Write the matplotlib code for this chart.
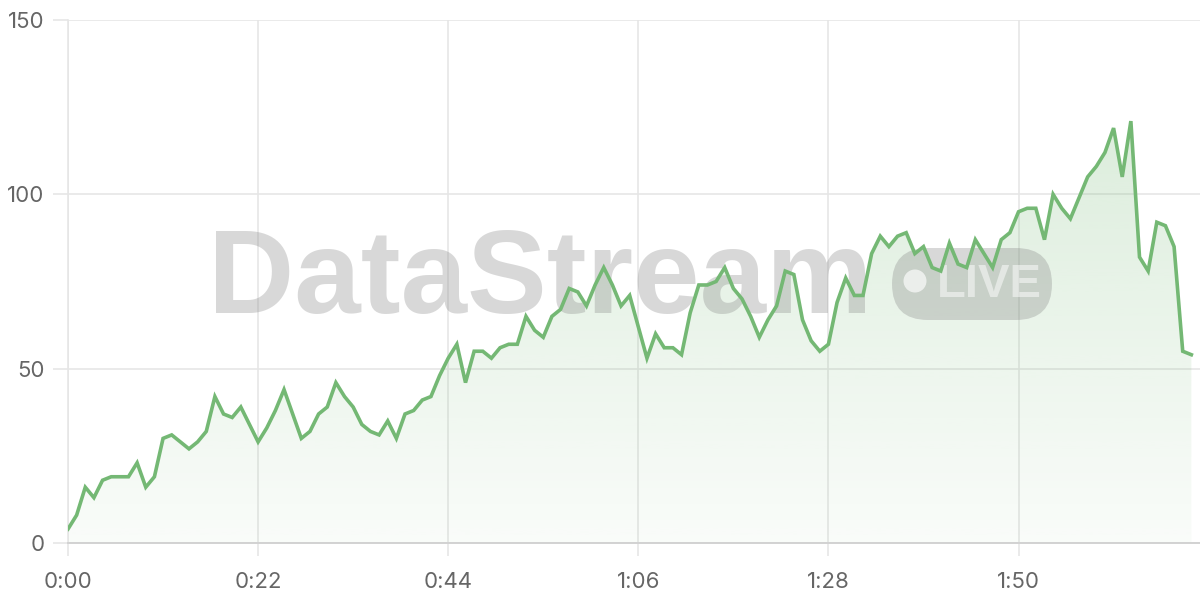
#! /usr/bin/env python3

import numpy as np
import matplotlib
matplotlib.use('Agg')
import matplotlib.pyplot as plt
from matplotlib.patches import FancyBboxPatch, Ellipse

# one reading per second, 0:00 .. 2:10
seconds = list(range(131))
values = [4, 8, 16, 13, 18, 19, 19, 19, 23, 16,
          19, 30, 31, 29, 27, 29, 32, 42, 37, 36,
          39, 34, 29, 33, 38, 44, 37, 30, 32, 37,
          39, 46, 42, 39, 34, 32, 31, 35, 30, 37,
          38, 41, 42, 48, 53, 57, 46, 55, 55, 53,
          56, 57, 57, 65, 61, 59, 65, 67, 73, 72,
          68, 74, 79, 74, 68, 71, 62, 53, 60, 56,
          56, 54, 66, 74, 74, 75, 79, 73, 70, 65,
          59, 64, 68, 78, 77, 64, 58, 55, 57, 69,
          76, 71, 71, 83, 88, 85, 88, 89, 83, 85,
          79, 78, 86, 80, 79, 87, 83, 79, 87, 89,
          95, 96, 96, 87, 100, 96, 93, 99, 105, 108,
          112, 119, 105, 121, 82, 78, 92, 91, 85, 55,
          54]

x_ticks = [0, 22, 44, 66, 88, 110]
x_labels = ['%d:%02d' % (t // 60, t % 60) for t in x_ticks]
y_ticks = [0, 50, 100, 150]

green = '#74b874'
grid_col = '#e6e6e6'
label_col = '#666666'

plt.rcParams['font.family'] = ['Inter', 'DejaVu Sans']

W, H = 1200, 600
fig = plt.figure(figsize=(12, 6), dpi=100)
ax = fig.add_axes([68 / W, 57 / H, (W - 68) / W, (543 - 20) / H])

ax.set_xlim(0, 131)
ax.set_ylim(0, 150)

# gradient fill under the line
poly = ax.fill_between(seconds, values, 0, color='none', zorder=1)
grad = np.zeros((256, 1, 4))
rgb = matplotlib.colors.to_rgb(green)
grad[:, 0, 0] = rgb[0]
grad[:, 0, 1] = rgb[1]
grad[:, 0, 2] = rgb[2]
grad[:, 0, 3] = np.linspace(0.04, 0.30, 256)
img = ax.imshow(grad, extent=[0, 131, 0, 150], origin='lower', aspect='auto', zorder=1)
img.set_clip_path(poly.get_paths()[0], transform=ax.transData)

ax.plot(seconds, values, color=green, lw=2.6, zorder=3, solid_joinstyle='miter')

# watermark
ax.text(208 / W, (H - 313) / H, 'DataStream', transform=fig.transFigure,
        family='Liberation Sans', fontsize=86, fontweight='bold', color='#808080', alpha=0.3,
        ha='left', va='baseline', zorder=2)
badge = FancyBboxPatch((892 / W, (H - 320) / H), 160 / W, 72 / H,
                       boxstyle='round,pad=0,rounding_size=0.03',
                       transform=fig.transFigure, facecolor='#808080', alpha=0.3,
                       edgecolor='none', zorder=2, mutation_aspect=2)
ax.add_patch(badge)
ax.add_patch(Ellipse((915 / W, (H - 281) / H), 23 / W, 23 / H, transform=fig.transFigure,
                     facecolor='white', alpha=0.65, edgecolor='none', zorder=2.1))
ax.text(937 / W, (H - 297) / H, 'LIVE', transform=fig.transFigure,
        family='Liberation Sans', fontsize=34, fontweight='bold', color='white', alpha=0.5,
        ha='left', va='baseline', zorder=2.1)

ax.set_xticks(x_ticks)
ax.set_xticklabels(x_labels)
ax.set_yticks(y_ticks)
ax.grid(True, color=grid_col, lw=1.2, zorder=0)
ax.set_axisbelow(True)
ax.tick_params(axis='y', length=11, width=1.2, color=grid_col, labelcolor=label_col,
               labelsize=16, pad=6)
ax.tick_params(axis='x', length=9, width=1.2, color=grid_col, labelcolor=label_col,
               labelsize=16, pad=12)

for s in ['top', 'right']:
    ax.spines[s].set_visible(False)
ax.spines['left'].set_color(grid_col)
ax.spines['left'].set_linewidth(1.2)
ax.spines['bottom'].set_color('#d2d2d2')
ax.spines['bottom'].set_linewidth(1.4)

fig.savefig('out.png', dpi=100)
